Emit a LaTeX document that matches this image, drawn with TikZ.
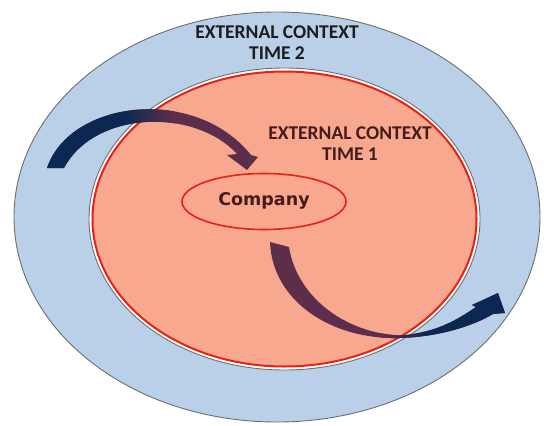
\documentclass[tikz,border=0pt]{standalone}
\usepackage{fontspec}
\newfontfamily\calfont{Carlito}
\newfontfamily\dvfont{DejaVu Sans}
\definecolor{outerblue}{RGB}{186,208,233}
\definecolor{ringgrey}{RGB}{110,110,110}
\definecolor{salmon}{RGB}{247,168,142}
\definecolor{redline}{RGB}{232,32,22}
\definecolor{navy}{RGB}{12,40,82}
\definecolor{plum}{RGB}{92,46,76}
\definecolor{txtdark}{RGB}{30,28,28}
\definecolor{txtbrown}{RGB}{68,28,28}
\tikzset{
  ctxtext/.style={font=\calfont\bfseries\fontsize{19.5}{21}\selectfont, align=center, inner sep=0pt},
  compnode/.style={ellipse, draw=redline, line width=1.6pt, fill=salmon, minimum width=164pt, minimum height=56pt, inner sep=0pt},
}
\usetikzlibrary{shapes.geometric}
\begin{document}
\begin{tikzpicture}[x=1pt,y=-1pt]
\useasboundingbox (0,0) rectangle (544,426);
\fill[white] (0,0) rectangle (544,426);
% outer ellipse
\draw[ringgrey, line width=0.9pt, fill=outerblue] (277,217) ellipse [x radius=263, y radius=205];
% inner ellipse: grey outline, white gap, red line
\draw[ringgrey, line width=0.9pt, fill=white] (284.5,219) ellipse [x radius=195.5, y radius=151];
\draw[redline, line width=2pt, fill=salmon] (284.5,219) ellipse [x radius=192, y radius=147.5];
% company
\node[compnode] (company) at (264,201.5) {};
\node[font=\dvfont\bfseries\fontsize{17.5}{20}\selectfont, text=txtbrown, inner sep=0pt] (companytext) at (264,201) {Company};
% texts
\node[ctxtext, text=txtdark] (t2) at (277,43) {EXTERNAL CONTEXT\\TIME 2};
\node[ctxtext, text=txtbrown] (t1) at (350,144) {EXTERNAL CONTEXT\\TIME 1};
% top arrow
\def\toparrow{(47,168) .. controls (70,100) and (195,85) .. (251,155) -- (258,157) -- (247,170) -- (227,155) -- (237,154) .. controls (195,108) and (95,110) .. (64,168) -- cycle}
\fill[plum] \toparrow;
\begin{scope}
\clip \toparrow;
\fill[navy] (40,80) rectangle (125,180);
\shade[left color=navy, right color=plum] (124.5,80) rectangle (175,180);
\end{scope}
% bottom arrow
\def\botarrow{(270,242) .. controls (272,300) and (330,340) .. (400,338) .. controls (440,337) and (475,325) .. (493,314) -- (505,313) -- (498,293) -- (472,305) -- (476,307) .. controls (450,325) and (430,333) .. (400,335.5) .. controls (345,333) and (297,297) .. (289,247) -- cycle}
\fill[plum] \botarrow;
\begin{scope}
\clip \botarrow;
\shade[left color=plum, right color=navy] (380,240) rectangle (425,345);
\fill[navy] (424.5,240) rectangle (520,345);
\end{scope}
\end{tikzpicture}
\end{document}
